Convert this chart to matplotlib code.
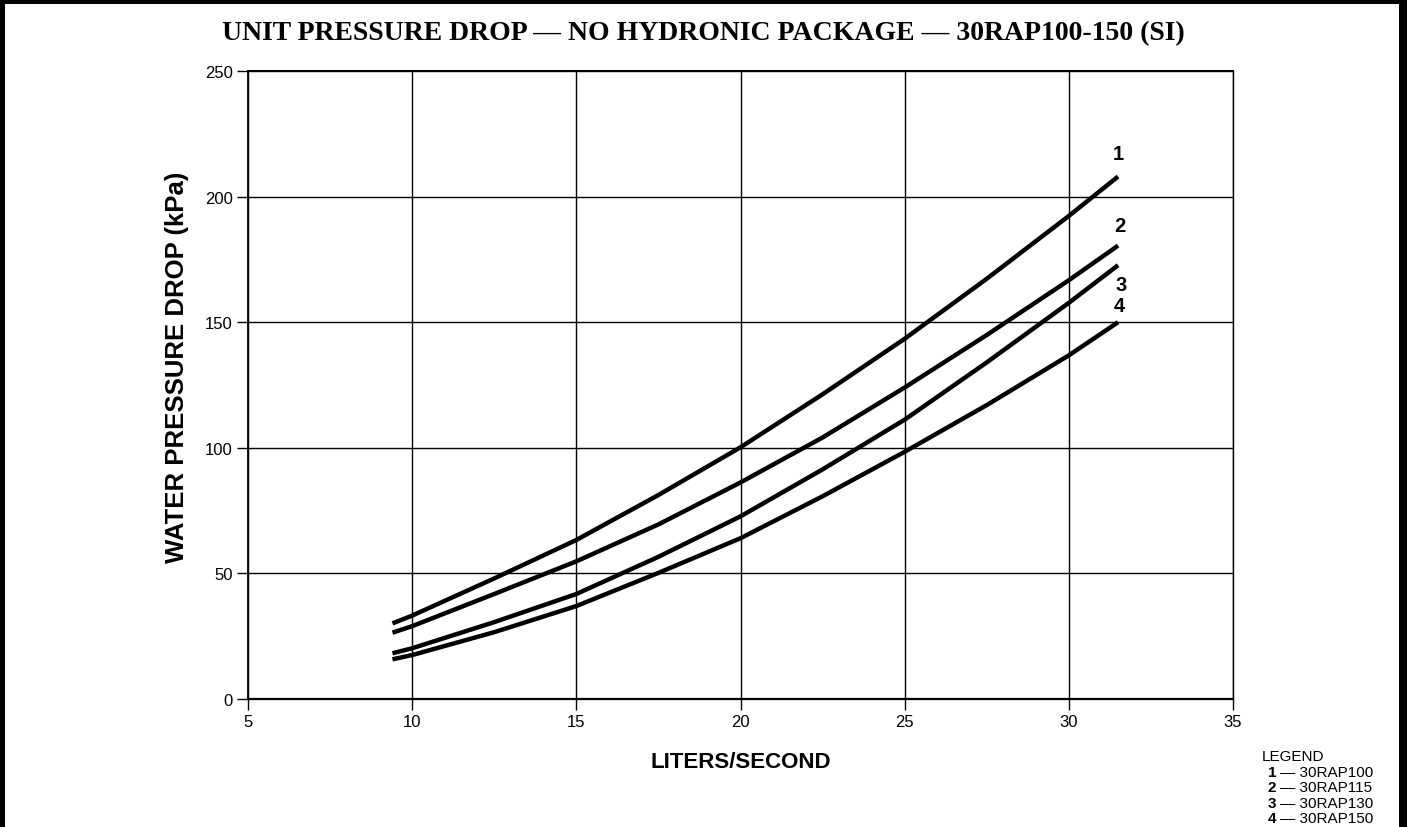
import matplotlib
matplotlib.use("Agg")
import matplotlib.pyplot as plt
from matplotlib.patches import Rectangle

# ---- data ----
flow = [9.4, 10, 12.5, 15, 17.5, 20, 22.5, 25, 27.5, 30, 31.5]
curve_1 = [30.1, 33.2, 48.0, 63.3, 81.2, 100.2, 121.3, 143.4, 167.3, 192.3, 208.0]
curve_2 = [26.4, 29.0, 41.8, 54.8, 69.5, 86.2, 104.1, 124.0, 144.9, 166.7, 180.5]
curve_3 = [18.2, 20.2, 30.6, 41.8, 56.6, 72.7, 91.4, 111.2, 134.0, 157.7, 172.7]
curve_4 = [15.8, 17.5, 26.6, 37.0, 50.2, 64.0, 80.7, 98.4, 117.0, 136.8, 150.0]
curve_names = ["1", "2", "3", "4"]
models = ["30RAP100", "30RAP115", "30RAP130", "30RAP150"]
x_ticks = [5, 10, 15, 20, 25, 30, 35]
y_ticks = [0, 50, 100, 150, 200, 250]

W, H = 1407, 828
fig = plt.figure(figsize=(W / 100, H / 100), dpi=100)
fig.patch.set_facecolor("white")

# outer frame (left, top, right)
for (x0, y0, w, h) in [(0, 0, 5 / W, 1), (0, 1 - 5 / H, 1, 5 / H), (1 - 8 / W, 0, 8 / W, 1)]:
    fig.add_artist(Rectangle((x0, y0), w, h, transform=fig.transFigure,
                             color="black", lw=0))

ax = fig.add_axes([248 / W, 128 / H, (1233 - 248) / W, (700 - 72) / H])
ax.set_xlim(5, 35)
ax.set_ylim(0, 250)
ax.set_xticks(x_ticks)
ax.set_yticks(y_ticks)
ax.grid(True, color="black", lw=1.0)
ax.set_axisbelow(True)
for s in ax.spines.values():
    s.set_linewidth(1.0)
ax.spines["left"].set_linewidth(1.3)
ax.spines["bottom"].set_linewidth(1.6)
ax.spines["top"].set_linewidth(1.4)
ax.tick_params(axis="both", direction="out", length=8, width=1.0, colors="black",
               labelsize=12, pad=3)
for lab in ax.get_xticklabels() + ax.get_yticklabels():
    lab.set_fontfamily("Liberation Sans")

series = [curve_1, curve_2, curve_3, curve_4]
for ys in series:
    ax.plot(flow, ys, color="black", lw=3.2, solid_capstyle="butt",
            solid_joinstyle="round")

# curve number labels
label_pos = [(31.5, 217), (31.55, 188.5), (31.6, 165), (31.55, 156.5)]
for name, (lx, ly) in zip(curve_names, label_pos):
    ax.text(lx, ly, name, ha="center", va="center", fontsize=14.5,
            fontweight="bold", family="Liberation Sans")

ax.set_xlabel("LITERS/SECOND", fontsize=16, fontweight="bold",
              family="Liberation Sans", labelpad=16)
ax.set_ylabel("WATER PRESSURE DROP (kPa)", fontsize=18.5, fontweight="bold",
              family="Liberation Sans", va="center")
ax.yaxis.set_label_coords(-0.072, 0.529)

fig.text(703 / W, 1 - 34 / H,
         "UNIT PRESSURE DROP \u2014 NO HYDRONIC PACKAGE \u2014 30RAP100-150 (SI)",
         ha="center", va="center", fontsize=20, fontweight="bold",
         family="Liberation Serif")

# legend block
fig.text(1293 / W, 1 - 757 / H, "LEGEND", ha="center", va="center",
         fontsize=11, family="Liberation Sans")
for i, (n, m) in enumerate(zip(curve_names, models)):
    yy = 1 - (773 + i * 15.3) / H
    fig.text(1268 / W, yy, n, ha="left", va="center", fontsize=11,
             fontweight="bold", family="Liberation Sans")
    fig.text(1280 / W, yy, "\u2014 " + m, ha="left", va="center", fontsize=11,
             family="Liberation Sans")

fig.savefig("out.png", dpi=100)
